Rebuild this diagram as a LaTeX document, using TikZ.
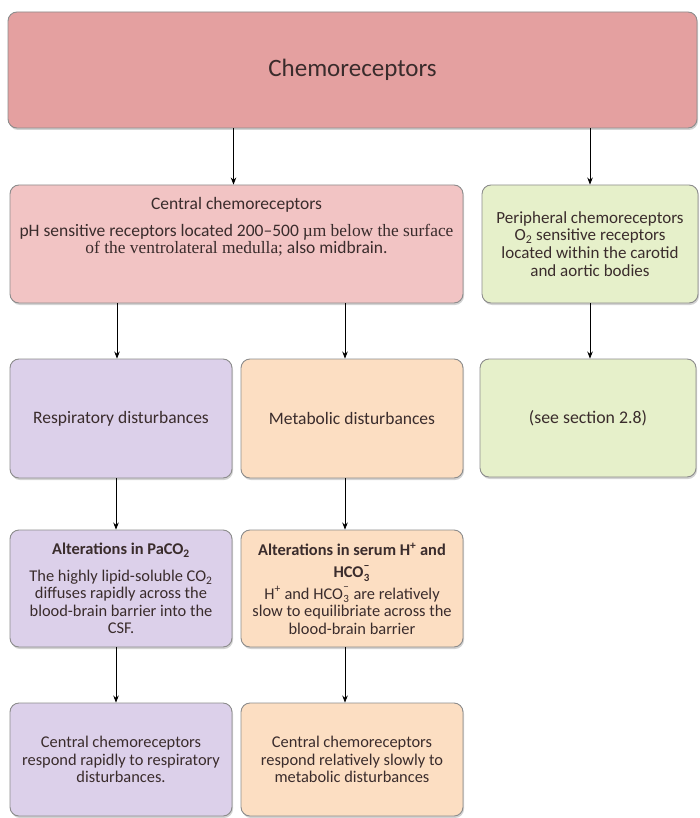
\documentclass[tikz,border=0pt]{standalone}
\usepackage{fontspec}
\setmainfont{Carlito}
\newfontfamily\seriffont{Liberation Serif}
\usetikzlibrary{shadows,arrows.meta}

\definecolor{inkcol}{RGB}{58,44,44}
\definecolor{edgecol}{RGB}{140,140,140}
\definecolor{rosedark}{RGB}{228,160,160}
\definecolor{roselight}{RGB}{242,196,196}
\definecolor{limelight}{RGB}{230,240,202}
\definecolor{lilac}{RGB}{220,208,234}
\definecolor{peach}{RGB}{252,222,194}

% bicarbonate with stacked charge and subscript
\newcommand\hcothree{HCO\kern0.3pt\raisebox{-0.22em}{\rlap{\raisebox{0.74em}{\fontsize{11}{11}\selectfont −}}\fontsize{11}{11}\selectfont 3}\kern1pt}

\tikzset{
  box/.style={draw=edgecol, line width=0.9pt, rounded corners=9pt,
    inner sep=0pt, align=center, text=inkcol,
    font=\fontsize{17.5}{17.8}\selectfont,
    drop shadow={opacity=0.35, shadow xshift=1pt, shadow yshift=-2pt}},
  txt/.style={align=center, text=inkcol, inner sep=0pt,
    font=\fontsize{17.5}{17.8}\selectfont},
  small/.style={font=\fontsize{16.4}{17.4}\selectfont},
  arr/.style={draw=black, line width=0.8pt, -{Stealth[length=7pt,width=5.5pt]}},
}

\begin{document}
\begin{tikzpicture}[x=1pt,y=-1pt]
\useasboundingbox (0,0) rectangle (699,818);

% root
\node[box, fill=rosedark, minimum width=689pt, minimum height=116pt,
      font=\fontsize{25}{28}\selectfont] (root) at (352.5,70) {Chemoreceptors};

% second row
\node[box, fill=roselight, minimum width=453pt, minimum height=118pt] (central) at (236.5,244) {};
\node[txt, anchor=north] (centraltxt) at (236.5,197)
  {Central chemoreceptors\\[9pt]
   pH sensitive receptors located 200--500 {\seriffont\fontsize{17.4}{17.8}\selectfont µm below the surface}\\
   {\seriffont\fontsize{17.4}{17.8}\selectfont of the ventrolateral medulla;} also midbrain.};
\node[box, fill=limelight, minimum width=216pt, minimum height=118pt,
      font=\fontsize{17}{17.8}\selectfont] (periph) at (590,244)
  {Peripheral chemoreceptors\\O\textsubscript{2} sensitive receptors\\located within the carotid\\and aortic bodies};

% third row
\node[box, fill=lilac, minimum width=222pt, minimum height=119pt] (resp) at (121,418.5) {Respiratory disturbances};
\node[box, fill=peach, minimum width=222pt, minimum height=119pt] (meta) at (352,418.5) {Metabolic disturbances};
\node[box, fill=limelight, minimum width=216pt, minimum height=118pt,
      font=\fontsize{17.8}{18}\selectfont] (section) at (588,418) {(see section 2.8)};

% fourth row
\node[box, small, fill=lilac, minimum width=222pt, minimum height=117pt] (altresp) at (121,588.5)
  {\textbf{Alterations in PaCO\textsubscript{2}}\\[9.5pt]
   The highly lipid-soluble CO\textsubscript{2}\\diffuses rapidly across the\\blood-brain barrier into the\\CSF.};
\node[box, small, fill=peach, minimum width=222pt, minimum height=117pt] (altmeta) at (352,588.5)
  {\textbf{Alterations in serum H\textsuperscript{+} and}\\[5pt]
   \textbf{\hcothree}\\[4pt]
   H\textsuperscript{+} and \hcothree{} are relatively\\slow to equilibriate across the\\blood-brain barrier};

% fifth row
\node[box, small, fill=lilac, minimum width=222pt, minimum height=113pt] (fastresp) at (121,759.5)
  {Central chemoreceptors\\respond rapidly to respiratory\\disturbances.};
\node[box, small, fill=peach, minimum width=222pt, minimum height=113pt] (slowmeta) at (352,759.5)
  {Central chemoreceptors\\respond relatively slowly to\\metabolic disturbances};

% connectors
\draw[arr] ([xshift=-3pt]central.north |- root.south) -- ([xshift=-3pt]central.north);
\draw[arr] (periph.north |- root.south) -- (periph.north);
\draw[arr] ([xshift=-4pt]resp.north |- central.south) -- ([xshift=-4pt]resp.north);
\draw[arr] ([xshift=-7pt]meta.north |- central.south) -- ([xshift=-7pt]meta.north);
\draw[arr] (periph.south) -- (periph.south |- section.north);
\draw[arr] ([xshift=-5pt]resp.south) -- ([xshift=-5pt]altresp.north);
\draw[arr] ([xshift=-7pt]meta.south) -- ([xshift=-7pt]altmeta.north);
\draw[arr] ([xshift=-5pt]altresp.south) -- ([xshift=-5pt]fastresp.north);
\draw[arr] ([xshift=-7pt]altmeta.south) -- ([xshift=-7pt]slowmeta.north);
\end{tikzpicture}
\end{document}
